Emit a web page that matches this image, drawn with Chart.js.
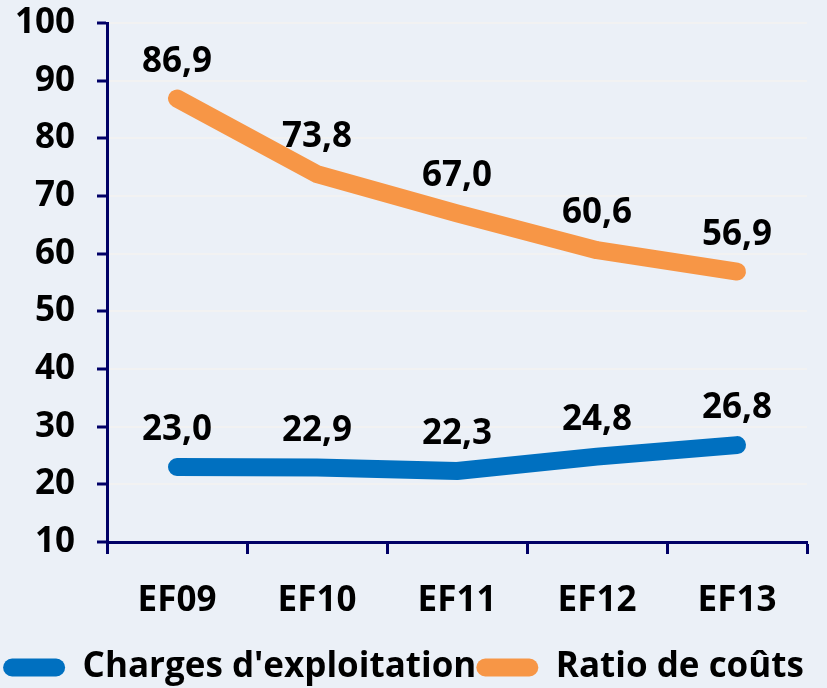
<!DOCTYPE html>
<html>
<head>
<meta charset="utf-8">
<script src="https://cdn.jsdelivr.net/npm/chart.js@4/dist/chart.umd.min.js"></script>
<style>
    html, body { margin: 0; padding: 0; background: #EBF0F7; }
    #wrap { width: 827px; height: 688px; }
</style>
</head>
<body>
<div id="wrap"><canvas id="chart" width="827" height="688"></canvas></div>
<script>
/* données */
const CATEGORIES = ['EF09', 'EF10', 'EF11', 'EF12', 'EF13'];
const CHARGES = [23.0, 22.9, 22.3, 24.8, 26.8];
const RATIO = [86.9, 73.8, 67.0, 60.6, 56.9];
const Y_MIN = 10;
const Y_MAX = 100;
const Y_STEP = 10;

const FONT = '"Open Sans", sans-serif';
const NAVY = '#000066';
const SIZE = 35;

// étiquettes de valeurs au-dessus des points
const valueLabels = {
    id: 'valueLabels',
    afterDatasetsDraw(chart) {
        const ctx = chart.ctx;
        ctx.save();
        ctx.font = `bold ${SIZE}px ${FONT}`;
        ctx.fillStyle = '#000';
        ctx.textAlign = 'center';
        ctx.textBaseline = 'middle';
        chart.data.datasets.forEach((ds, i) => {
            chart.getDatasetMeta(i).data.forEach((pt, j) => {
                const txt = ds.data[j].toFixed(1).replace('.', ',');
                ctx.fillText(txt, pt.x, pt.y - 37);
            });
        });
        ctx.restore();
    }
};

new Chart(document.getElementById('chart'), {
    type: 'line',
    data: {
        labels: CATEGORIES,
        datasets: [
            {
                label: "Charges d'exploitation",
                data: CHARGES,
                borderColor: '#0070C0',
                backgroundColor: '#0070C0',
                borderWidth: 18,
                borderCapStyle: 'round',
                borderJoinStyle: 'round',
                pointRadius: 0,
                tension: 0
            },
            {
                label: 'Ratio de coûts',
                data: RATIO,
                borderColor: '#F79646',
                backgroundColor: '#F79646',
                borderWidth: 18,
                borderCapStyle: 'round',
                borderJoinStyle: 'round',
                pointRadius: 0,
                tension: 0
            }
        ]
    },
    options: {
        responsive: false,
        animation: false,
        layout: { padding: { top: 0, right: 20, left: 0, bottom: -7 } },
        plugins: {
            tooltip: { enabled: false },
            legend: {
                position: 'bottom',
                labels: {
                    color: '#000',
                    font: { family: FONT, size: SIZE, weight: 'bold' },
                    boxWidth: 62,
                    boxHeight: 18,
                    useBorderRadius: true,
                    borderRadius: 9,
                    padding: 0,
                    generateLabels(chart) {
                        const items = Chart.defaults.plugins.legend.labels.generateLabels(chart);
                        items.forEach(it => { it.lineWidth = 0; });
                        return items;
                    }
                }
            }
        },
        scales: {
            x: {
                offset: true,
                border: { color: NAVY, width: 3 },
                grid: {
                    drawOnChartArea: false,
                    offset: true,
                    tickColor: NAVY,
                    tickWidth: 3,
                    tickLength: 12
                },
                ticks: {
                    color: '#000',
                    padding: 26,
                    font: { family: FONT, size: SIZE, weight: 'bold' }
                },
                afterFit(scale) { scale.height = 108; }
            },
            y: {
                min: Y_MIN,
                max: Y_MAX,
                border: { color: NAVY, width: 3 },
                grid: {
                    color: '#F2F2F2',
                    lineWidth: 2,
                    tickColor: NAVY,
                    tickWidth: 3,
                    tickLength: 10
                },
                ticks: {
                    stepSize: Y_STEP,
                    color: '#000',
                    padding: 22,
                    font: { family: FONT, size: SIZE, weight: 'bold' }
                },
                afterFit(scale) {
                    scale.width = 107;
                    scale.paddingTop = 23;
                    scale.paddingBottom = 0;
                }
            }
        }
    },
    plugins: [valueLabels]
});
</script>
</body>
</html>
